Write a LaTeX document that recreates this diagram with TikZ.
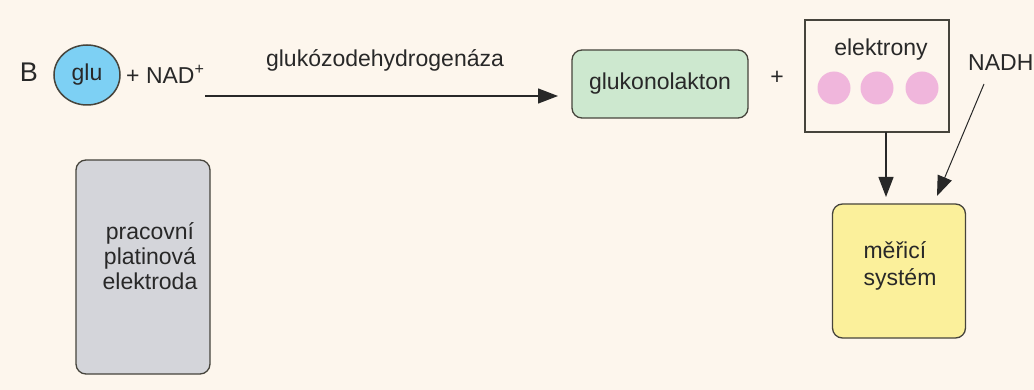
\documentclass[tikz,border=0pt]{standalone}
\usepackage{fontspec}
\setmainfont{Liberation Sans}
\usetikzlibrary{arrows.meta,shapes.geometric}
\definecolor{bg}{RGB}{253,246,237}
\definecolor{edge}{RGB}{70,68,60}
\definecolor{glublue}{RGB}{125,208,244}
\definecolor{lakgreen}{RGB}{205,232,207}
\definecolor{elpink}{RGB}{240,182,220}
\definecolor{measyellow}{RGB}{251,240,155}
\definecolor{elgray}{RGB}{212,213,218}
\definecolor{txt}{RGB}{40,40,40}
\tikzset{
  lbl/.style={font=\fontsize{23}{25}\selectfont, text=txt, inner sep=0pt},
  rbox/.style={draw=edge, line width=1.3pt, rounded corners=10pt, inner sep=0pt},
  arr/.style={draw=txt, line width=1.3pt, -{Triangle[length=20pt,width=15pt]}},
  dot/.style={circle, fill=elpink, draw=none, minimum size=33pt, inner sep=0pt}
}
\begin{document}
\begin{tikzpicture}[x=1pt,y=-1pt]
\fill[bg] (0,0) rectangle (1034,390);
\useasboundingbox (0,0) rectangle (1034,390);
\node[lbl, font=\fontsize{27}{28}\selectfont] (B) at (29,72) {B};
\node[ellipse, draw=edge, line width=1.5pt, fill=glublue, minimum width=66pt, minimum height=60pt, inner sep=0pt, lbl] (glu) at (87,75) {glu};
\node[lbl, anchor=west] (nad) at (126,74) {+ NAD\textsuperscript{+}};
\node[lbl] (enz) at (385,60) {glukózodehydrogenáza};
\node[rbox, fill=lakgreen, minimum width=176pt, minimum height=68pt, lbl] (lak) at (660,84) {glukonolakton};
\node[lbl] (plus) at (777,78) {+};
\node[draw=edge, line width=1.3pt, minimum width=144pt, minimum height=112pt, inner sep=0pt] (el) at (877,76) {};
\node[lbl] (eltxt) at (881,50) {elektrony};
\node[dot] (d1) at (834,88) {};
\node[dot] (d2) at (877,88) {};
\node[dot] (d3) at (922,88) {};
\node[lbl, anchor=west] (nadh) at (968,63) {NADH};
\node[rbox, fill=measyellow, minimum width=133pt, minimum height=134pt] (mer) at (899,271) {};
\node[lbl, align=left] (mertxt) at (900,266) {měřicí\\[2pt]systém};
\node[rbox, fill=elgray, minimum width=134pt, minimum height=214pt] (pt) at (143,267) {};
\node[lbl, align=center] (pttxt) at (150,256) {pracovní\\platinová\\elektroda};
\coordinate (a0) at (205,96);
\coordinate (a1) at (558,96);
\draw[arr] (a0) -- (a1);
\coordinate (e0) at (886,132);
\coordinate (e1) at (886,197);
\draw[arr] (e0) -- (e1);
\coordinate (n0) at (984,84);
\coordinate (n1) at (937,196);
\draw[arr, line width=1pt] (n0) -- (n1);
\end{tikzpicture}
\end{document}
